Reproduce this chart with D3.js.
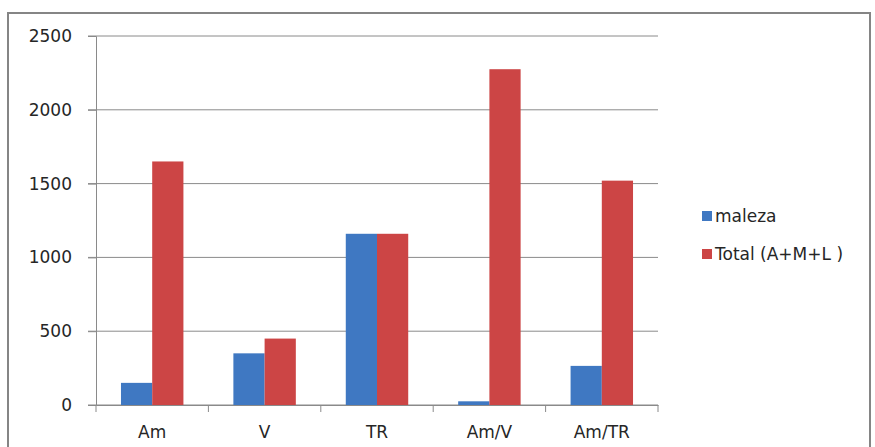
<!DOCTYPE html>
<html>
<head>
<meta charset="utf-8">
<script src="https://cdn.jsdelivr.net/npm/d3@7"></script>
<style>
  html, body { margin: 0; padding: 0; background: #fff; }
  svg { display: block; }
</style>
</head>
<body>
<div id="chart"></div>
<script>
(function () {
  "use strict";

  const categories = ["Am", "V", "TR", "Am/V", "Am/TR"];
  const seriesNames = ["maleza", "Total (A+M+L )"];
  const maleza = [150, 350, 1160, 25, 265];
  const total = [1650, 450, 1160, 2275, 1520];
  const yTicks = [0, 500, 1000, 1500, 2000, 2500];
  const colors = ["#3f78c2", "#cc4545"];

  const width = 875;
  const height = 447;
  const margin = { top: 36, right: 217, bottom: 42, left: 96 };

  const svg = d3.select("#chart").append("svg").attr("width", width).attr("height", height);

  // chart frame
  svg.append("rect")
    .attr("x", 8).attr("y", 13)
    .attr("width", 862).attr("height", 450)
    .attr("fill", "#fff")
    .attr("stroke", "#858585")
    .attr("stroke-width", 2);

  const x0 = d3.scaleBand().domain(categories).range([margin.left, width - margin.right]).padding(0);
  const x1 = d3.scaleBand().domain(seriesNames).range([0, x0.bandwidth()]).paddingInner(0).paddingOuter(0.8);
  const y = d3.scaleLinear().domain([0, 2500]).range([height - margin.bottom, margin.top]);

  // gridlines
  svg.append("g")
    .selectAll("line")
    .data(yTicks)
    .enter()
    .append("line")
    .attr("x1", margin.left - 8)
    .attr("x2", width - margin.right)
    .attr("y1", function (d) { return y(d); })
    .attr("y2", function (d) { return y(d); })
    .attr("stroke", "#8a8a8a")
    .attr("stroke-width", 1);

  svg.append("g")
    .attr("transform", "translate(" + margin.left + ",0)")
    .call(d3.axisLeft(y).tickValues(yTicks).tickFormat(d3.format("d")).tickSize(8).tickPadding(16))
    .call(function (g) {
      g.selectAll("text").attr("fill", "#262626").attr("font-size", 17).attr("font-family", "DejaVu Sans");
      g.selectAll("path,line").attr("stroke", "#8a8a8a");
    });

  // bars
  const groups = svg.append("g")
    .selectAll("g")
    .data(categories)
    .enter()
    .append("g")
    .attr("transform", function (d) { return "translate(" + x0(d) + ",0)"; });

  groups.selectAll("rect")
    .data(function (d, i) { return [maleza[i], total[i]]; })
    .enter()
    .append("rect")
    .attr("x", function (_, j) { return x1(seriesNames[j]); })
    .attr("width", x1.bandwidth())
    .attr("y", function (d) { return y(d); })
    .attr("height", function (d) { return y(0) - y(d); })
    .attr("fill", function (_, j) { return colors[j]; });

  svg.append("g")
    .attr("transform", "translate(0," + (height - margin.bottom) + ")")
    .call(d3.axisBottom(x0).tickSize(0).tickPadding(21))
    .call(function (g) {
      g.selectAll("text").attr("fill", "#262626").attr("font-size", 17).attr("font-family", "DejaVu Sans");
      g.select(".domain").attr("stroke", "#8a8a8a");
    });

  // category boundary ticks
  svg.append("g")
    .selectAll("line")
    .data(categories.concat(["end"]))
    .enter()
    .append("line")
    .attr("x1", function (d, i) { return i < categories.length ? x0(d) : x0.range()[1]; })
    .attr("x2", function (d, i) { return i < categories.length ? x0(d) : x0.range()[1]; })
    .attr("y1", y(0))
    .attr("y2", y(0) + 7)
    .attr("stroke", "#8a8a8a");

  // legend
  const legend = svg.append("g")
    .selectAll("g")
    .data(seriesNames)
    .enter()
    .append("g")
    .attr("transform", function (_, i) { return "translate(702," + (211 + i * 38) + ")"; });

  legend.append("rect")
    .attr("width", 10).attr("height", 10)
    .attr("fill", function (_, i) { return colors[i]; });

  legend.append("text")
    .attr("x", 13)
    .attr("y", 11)
    .attr("fill", "#262626")
    .attr("font-size", 17)
    .attr("font-family", "DejaVu Sans")
    .text(function (d) { return d; });
})();
</script>
</body>
</html>
